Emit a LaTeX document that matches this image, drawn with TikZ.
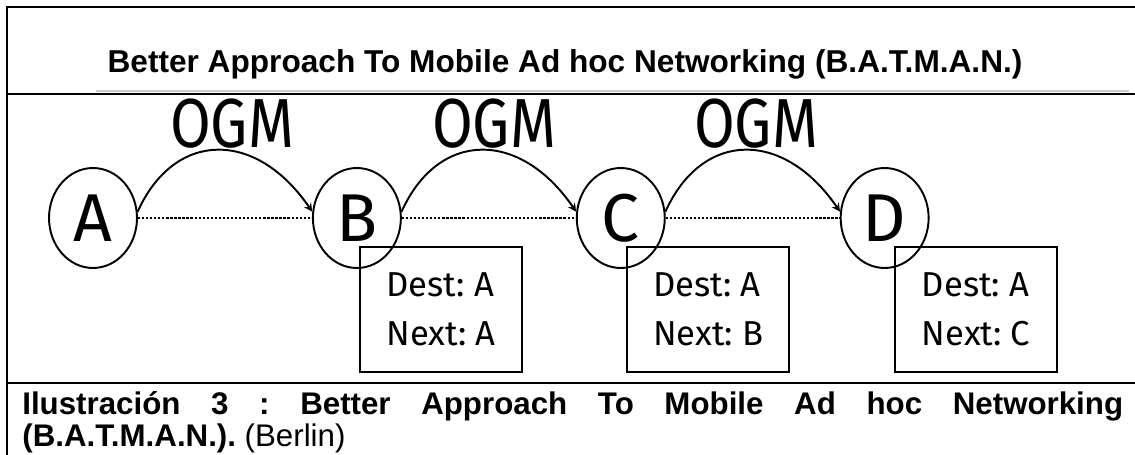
\documentclass[tikz,border=0pt]{standalone}
\usepackage{fontspec}
\setmainfont{Liberation Sans}
\newfontfamily\diagfont{Fira Sans}
\usetikzlibrary{positioning,shapes.geometric}
\frenchspacing

\begin{document}
\begin{tikzpicture}[x=0.02cm, y=-0.02cm, node distance=3.48cm, >=stealth]
            \tikzstyle{station} = [ellipse, draw=black, line width=1.1pt, minimum width=1.76cm, minimum height=2cm, inner sep=0pt, font=\diagfont\fontsize{38.5}{40}\selectfont];
            \tikzstyle{entry} = [rectangle, draw=black, line width=1.3pt, minimum width=3.24cm, minimum height=2.5cm, inner sep=0pt, align=left, anchor=north west, font=\diagfont\fontsize{19.7}{27.8}\selectfont];
            \tikzstyle{ogm} = [anchor=base, inner sep=0pt, font=\diagfont\fontsize{39.5}{40}\selectfont];
            \tikzstyle{hop} = [->, line width=1.1pt];
            \tikzstyle{link} = [line width=1.6pt, dash pattern=on 1.3pt off 1pt];
            \tikzstyle{frame} = [line width=1.5pt];
            \useasboundingbox (0,0) rectangle (1135,455);

            % frame and rules
            \draw [frame] (7,455) -- (7,7) -- (1135,7);
            \draw [frame] (7,94) -- (1135,94);
            \draw [gray!40, line width=1.2pt] (96,91) -- (1129,91);
            \draw [line width=0.6pt] (7,383) -- (1135,383);
            \draw [frame] (7,383) -- (22,383);
            \draw [frame] (1067,383) -- (1135,383);

            \node [anchor=base, inner sep=0pt, font=\bfseries\fontsize{18}{20}\selectfont] (title) at (565,73) {Better Approach To Mobile Ad hoc Networking (B.A.T.M.A.N.)};

            \node [station] (A) at (93,218) {A};
            \node [station, right = of A] (B) {B};
            \node [station, right = of B] (C) {C};
            \node [station, right = of C] (D) {D};

            \node [entry] (tB) at (359,246) {Dest: A\\Next: A};
            \node [entry] (tC) at (626,246) {Dest: A\\Next: B};
            \node [entry] (tD) at (894,246) {Dest: A\\Next: C};

            \node [ogm] (m1) at (232,148) {\scalebox{0.85}[1]{OGM}};
            \node [ogm] (m2) at (494,148) {\scalebox{0.85}[1]{OGM}};
            \node [ogm] (m3) at (756,148) {\scalebox{0.85}[1]{OGM}};

            \foreach \i/\j in {A/B, B/C, C/D} {
                \draw [link] (\i) -- (\j);
                \draw [hop] (\i.8) .. controls +(37,-82) and +(-56,-82) .. (\j.172);
            }

            \node [anchor=base west, inner sep=0pt, font=\bfseries\fontsize{17.8}{20}\selectfont] (capA) at (22,415) {\makebox[22.02cm][s]{Ilustración 3 : Better Approach To Mobile Ad hoc Networking}};
            \node [anchor=base west, inner sep=0pt, font=\fontsize{17.8}{20}\selectfont] (capB) at (22,446.5) {\textbf{(B.A.T.M.A.N.).} (Berlin)};
\end{tikzpicture}
\end{document}
